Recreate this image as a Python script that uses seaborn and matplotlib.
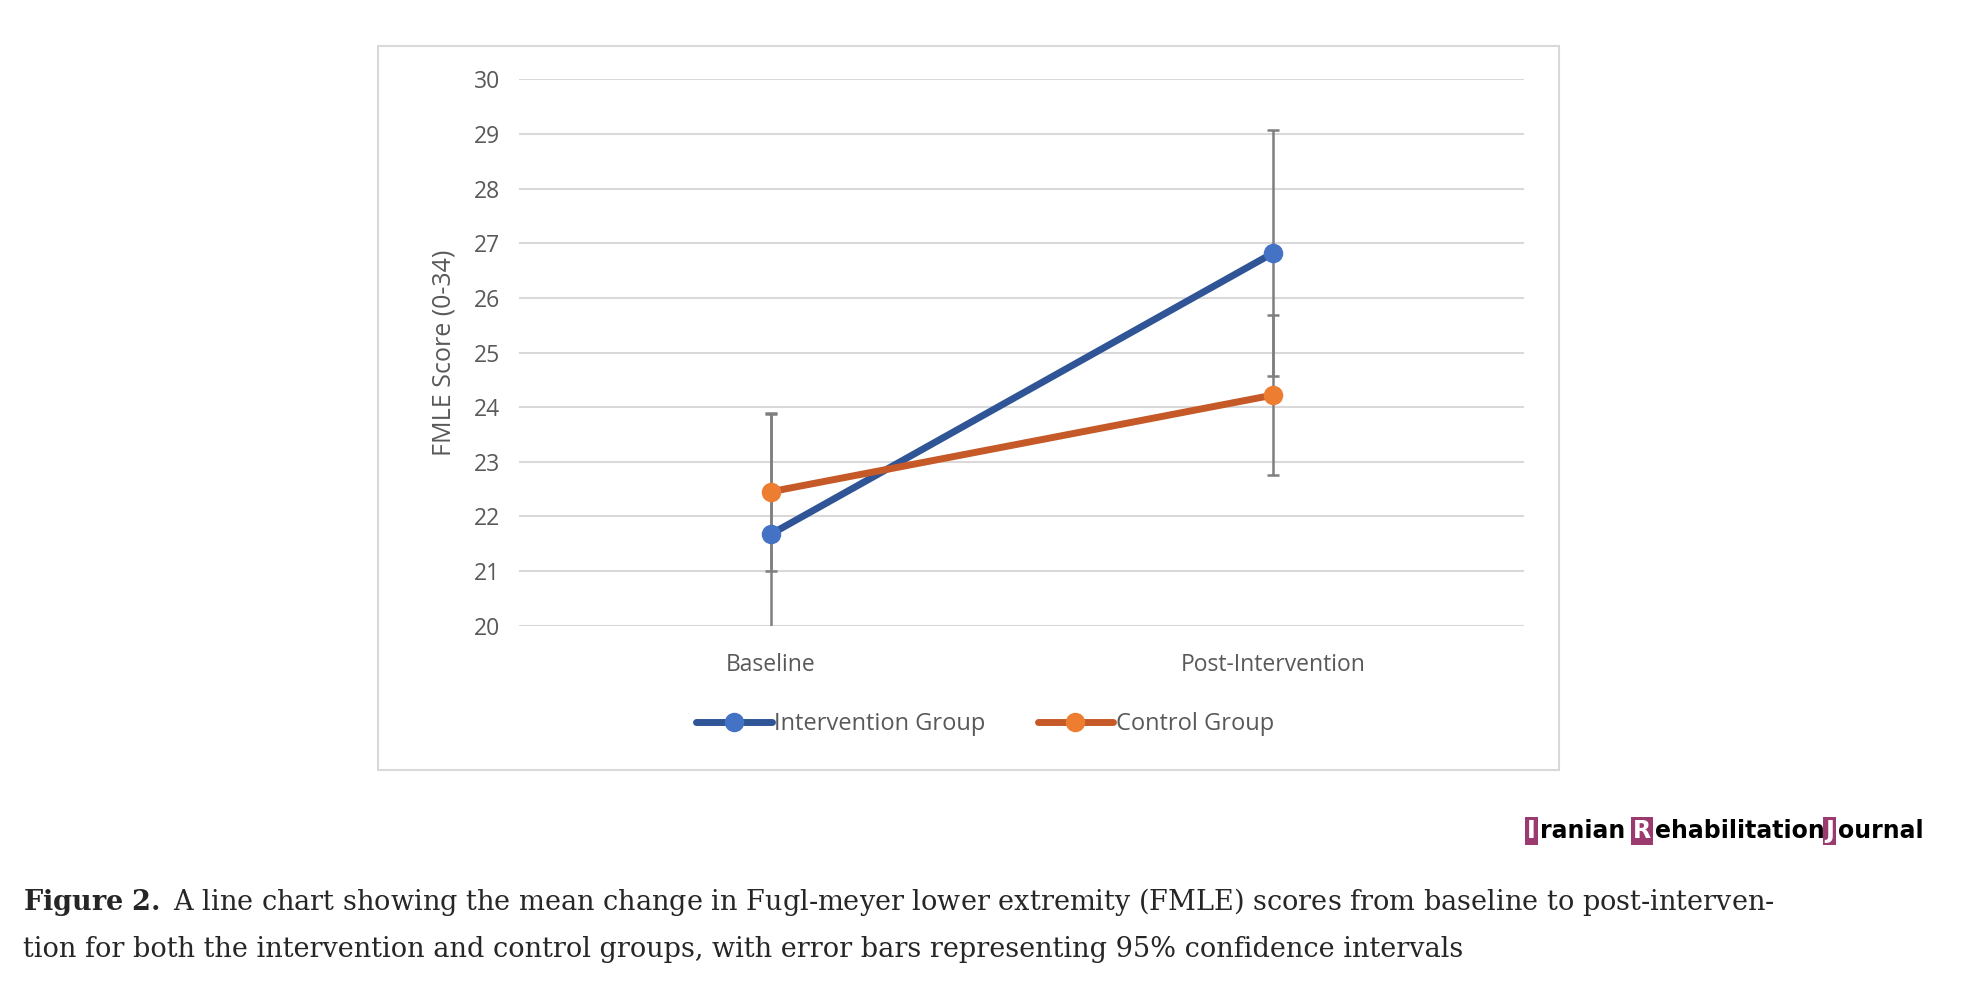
import pandas as pd
import numpy as np
import matplotlib.pyplot as plt
import seaborn as sns
from matplotlib.patches import Rectangle
from matplotlib.lines import Line2D

### DATA ###
timepoints = ['Baseline', 'Post-Intervention']
groups = ['Intervention Group', 'Control Group']
intervention_mean = [21.67, 26.82]
intervention_ci = [2.2, 2.25]
control_mean = [22.45, 24.22]
control_ci = [1.45, 1.47]

DATA = pd.DataFrame({
    'Time': timepoints * 2,
    'Score': intervention_mean + control_mean,
    'CI': intervention_ci + control_ci,
    'Group': [groups[0]] * 2 + [groups[1]] * 2,
})

sns.set_style('white')
plt.rcParams['font.family'] = ['Open Sans', 'DejaVu Sans']
plt.rcParams['mathtext.fontset'] = 'dejavuserif'

fig = plt.figure(figsize=(19.82, 9.93), dpi=100)
fig.patch.set_facecolor('white')

# chart frame like the Excel chart area
fig.patches.append(Rectangle((0.1905, 0.225), 0.596, 0.729, transform=fig.transFigure,
                             fill=False, edgecolor='#d9d9d9', lw=1.5))

ax = fig.add_axes([0.262, 0.37, 0.507, 0.55])
line_cols = ['#2F5597', '#C55A28']
mark_cols = ['#4472C4', '#ED7D31']

# error bars first so lines sit above them
for g in groups:
    sub = DATA[DATA['Group'] == g]
    ax.errorbar(range(len(sub)), sub['Score'], yerr=sub['CI'], fmt='none',
                ecolor='#7f7f7f', elinewidth=1.8, capsize=4, capthick=1.8, zorder=2)

sns.lineplot(data=DATA, x='Time', y='Score', hue='Group', palette=line_cols,
             linewidth=5, ax=ax, legend=False, zorder=3, sort=False)
for i, g in enumerate(groups):
    sub = DATA[DATA['Group'] == g]
    ax.scatter(range(len(sub)), sub['Score'], s=170, color=mark_cols[i], zorder=4)

ax.set_ylim(20, 30)
ax.set_xlim(-0.5, 1.5)
ax.set_yticks(range(20, 31))
ax.yaxis.grid(True, color='#d9d9d9', lw=1.5)
ax.set_axisbelow(True)
for s in ax.spines.values():
    s.set_visible(False)
ax.tick_params(axis='both', length=0, labelsize=16.5, labelcolor='#595959', pad=14)
ax.tick_params(axis='x', pad=20)
ax.set_xlabel('')
ax.set_ylabel('FMLE Score (0-34)', fontsize=18, color='#595959', labelpad=12)

# legend
handles = [Line2D([0], [0], color=line_cols[i], lw=5, marker='o', markersize=13,
                  markerfacecolor=mark_cols[i], markeredgecolor=mark_cols[i]) for i in range(2)]
fig.legend(handles, groups, loc='center', bbox_to_anchor=(0.497, 0.271), ncol=2,
           frameon=False, fontsize=17, labelcolor='#595959', handlelength=3.2,
           handletextpad=0.1, columnspacing=2.2)

# journal logo
fig.canvas.draw()
r = fig.canvas.get_renderer()
x = 0.7705
pieces = [('I', True), ('ranian ', False), ('R', True), ('ehabilitation', False), ('J', True), ('ournal', False)]
for txt, boxed in pieces:
    if boxed:
        t = fig.text(x, 0.163, txt, fontsize=17, fontweight='bold', color='white',
                     va='center', family='DejaVu Sans',
                     bbox=dict(boxstyle='square,pad=0.08', fc='#9b3a6e', ec='none'))
    else:
        t = fig.text(x, 0.163, txt, fontsize=17, fontweight='bold', color='black',
                     va='center', family='DejaVu Sans')
    bb = t.get_window_extent(r)
    x += bb.width / fig.bbox.width + (0.002 if boxed else 0)

# caption
cap_font = ['DejaVu Serif']
fig.text(0.0115, 0.092,
         r'$\bf{Figure\ 2.}$' + ' A line chart showing the mean change in Fugl-meyer lower extremity (FMLE) scores from baseline to post-interven-',
         fontsize=19.5, family=cap_font, va='center')
fig.text(0.0115, 0.044,
         'tion for both the intervention and control groups, with error bars representing 95% confidence intervals',
         fontsize=19.5, family=cap_font, va='center')

plt.savefig('out.png', dpi=100, facecolor='white')
